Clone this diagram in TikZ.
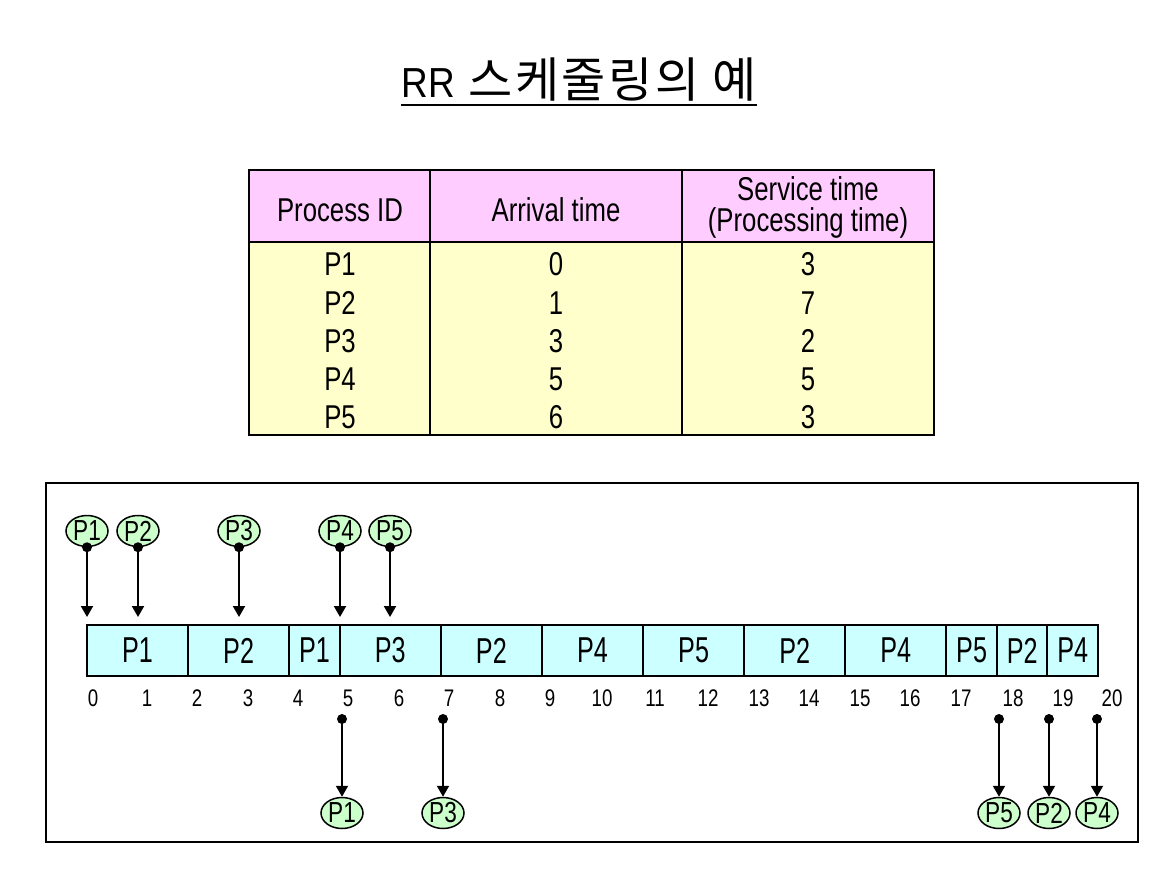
\documentclass[tikz,border=0pt]{standalone}
\usepackage{fontspec}
\setmainfont[FakeStretch=0.78]{Liberation Sans}
\newfontfamily\titlefont[FakeStretch=0.88]{Liberation Sans}
\newfontfamily\krfont[LetterSpace=5]{Noto Sans CJK KR}
\newfontfamily\barfont[FakeStretch=0.7]{Liberation Sans}
\usepackage{tikz}
\usetikzlibrary{shapes.geometric,arrows.meta,positioning}
\definecolor{HEADPINK}{HTML}{FFCCFF}
\definecolor{BODYYELLOW}{HTML}{FFFFCC}
\definecolor{SLICECYAN}{HTML}{CCFFFF}
\definecolor{PROCGREEN}{HTML}{CCFFCC}
\tikzset{
LINE/.style ={draw=black,line width=2},
HEAD/.style ={draw=black,line width=2,fill=HEADPINK},
BODY/.style ={draw=black,line width=2,fill=BODYYELLOW},
TITLE/.style={anchor=base,inner sep=0,font=\titlefont\fontsize{42}{42}\selectfont},
TAB/.style ={anchor=base,inner sep=0,font=\fontsize{33}{33}\selectfont},
SLICE/.style={rectangle,draw=black,line width=2,fill=SLICECYAN,minimum height=51,minimum width=#1*50.55,inner sep=0,outer sep=0,font=\barfont\fontsize{36}{36}\selectfont},
SLICE/.default = 2,
TICK/.style ={inner sep=0,font=\fontsize{24}{24}\selectfont},
PROC/.style ={ellipse,draw=black,line width=1.5,fill=PROCGREEN,minimum width=42,minimum height=31,inner sep=0,font=\fontsize{29}{29}\selectfont},
ARROW/.style={draw=black,line width=2,-{Triangle[length=11pt,width=12pt]}},
DOT/.style ={draw=none,fill=black},
}
\begin{document}
\begin{tikzpicture}[x=1pt,y=-1pt] %RR scheduling
	\useasboundingbox (0,0) rectangle (1162,878);
	% title
	\node[TITLE] (title) at (579,97) {RR\hspace{14pt}{\krfont\fontsize{48}{48}\selectfont 스케줄링의 예}};
	\path[LINE,line width=1.5] ([yshift=-8pt]title.base west) -- ([yshift=-8pt]title.base east);
	% table
	\path[HEAD] (249,170) rectangle (934,242);
	\path[BODY] (249,242) rectangle (934,435);
	\path[LINE] (430,170) -- (430,435);
	\path[LINE] (682,170) -- (682,435);
	\node[TAB] (hid) at (340,221) {Process ID};
	\node[TAB] (harr) at (556,221) {Arrival time};
	\node[TAB,anchor=center,align=center,font=\fontsize{33}{31}\selectfont] (hsrv) at (808,207) {Service time\\(Processing time)};
	\node[TAB] (id1) at (340,275) {P1};
	\node[TAB] (id2) at (340,314) {P2};
	\node[TAB] (id3) at (340,352) {P3};
	\node[TAB] (id4) at (340,390) {P4};
	\node[TAB] (id5) at (340,428) {P5};
	\node[TAB] (arr1) at (556,275) {0};
	\node[TAB] (arr2) at (556,314) {1};
	\node[TAB] (arr3) at (556,352) {3};
	\node[TAB] (arr4) at (556,390) {5};
	\node[TAB] (arr5) at (556,428) {6};
	\node[TAB] (srv1) at (808,275) {3};
	\node[TAB] (srv2) at (808,314) {7};
	\node[TAB] (srv3) at (808,352) {2};
	\node[TAB] (srv4) at (808,390) {5};
	\node[TAB] (srv5) at (808,428) {3};
	% time line
	\path[LINE] (46,483) rectangle (1138,842);
	\node[SLICE,anchor=west] (s1) at (87,650.5) {P1};
	\node[SLICE,right=0pt of s1] (s2) {P2};
	\node[SLICE=1,right=0pt of s2] (s3) {P1};
	\node[SLICE,right=0pt of s3] (s4) {P3};
	\node[SLICE,right=0pt of s4] (s5) {P2};
	\node[SLICE,right=0pt of s5] (s6) {P4};
	\node[SLICE,right=0pt of s6] (s7) {P5};
	\node[SLICE,right=0pt of s7] (s8) {P2};
	\node[SLICE,right=0pt of s8] (s9) {P4};
	\node[SLICE=1,right=0pt of s9] (s10) {P5};
	\node[SLICE=1,right=0pt of s10] (s11) {P2};
	\node[SLICE=1,right=0pt of s11] (s12) {P4};
	\node[TICK] (n0) at (93,698) {0};
	\node[TICK] (n1) at (147,698) {1};
	\node[TICK] (n2) at (197,698) {2};
	\node[TICK] (n3) at (248,698) {3};
	\node[TICK] (n4) at (298,698) {4};
	\node[TICK] (n5) at (348,698) {5};
	\node[TICK] (n6) at (399,698) {6};
	\node[TICK] (n7) at (449,698) {7};
	\node[TICK] (n8) at (500,698) {8};
	\node[TICK] (n9) at (550,698) {9};
	\node[TICK] (n10) at (602,698) {10};
	\node[TICK] (n11) at (655,698) {11};
	\node[TICK] (n12) at (708,698) {12};
	\node[TICK] (n13) at (759,698) {13};
	\node[TICK] (n14) at (809,698) {14};
	\node[TICK] (n15) at (860,698) {15};
	\node[TICK] (n16) at (910,698) {16};
	\node[TICK] (n17) at (961,698) {17};
	\node[TICK] (n18) at (1013,698) {18};
	\node[TICK] (n19) at (1063,698) {19};
	\node[TICK] (n20) at (1112,698) {20};
	% arrivals
	\node[PROC] (a1) at (87,531) {P1};
	\node[PROC] (a2) at (138,531) {P2};
	\node[PROC] (a3) at (239,531) {P3};
	\node[PROC] (a4) at (340,531) {P4};
	\node[PROC] (a5) at (390,531) {P5};
	\coordinate (t1) at (87,617);
	\coordinate (t2) at (138,617);
	\coordinate (t3) at (239,617);
	\coordinate (t4) at (340,617);
	\coordinate (t5) at (390,617);
	\path[ARROW] (a1.south) -- (t1);
	\path[ARROW] (a2.south) -- (t2);
	\path[ARROW] (a3.south) -- (t3);
	\path[ARROW] (a4.south) -- (t4);
	\path[ARROW] (a5.south) -- (t5);
	\path[DOT] (a1.south) circle (5);
	\path[DOT] (a2.south) circle (5);
	\path[DOT] (a3.south) circle (5);
	\path[DOT] (a4.south) circle (5);
	\path[DOT] (a5.south) circle (5);
	% back to the queue
	\coordinate (d1) at (342,719);
	\coordinate (d3) at (443,719);
	\coordinate (d5) at (999,719);
	\coordinate (d2) at (1049,719);
	\coordinate (d4) at (1097,719);
	\node[PROC] (r1) at (342,813) {P1};
	\node[PROC] (r3) at (443,813) {P3};
	\node[PROC] (r5) at (999,813) {P5};
	\node[PROC] (r2) at (1049,813) {P2};
	\node[PROC] (r4) at (1097,813) {P4};
	\path[ARROW] (d1) -- (r1.north);
	\path[ARROW] (d3) -- (r3.north);
	\path[ARROW] (d5) -- (r5.north);
	\path[ARROW] (d2) -- (r2.north);
	\path[ARROW] (d4) -- (r4.north);
	\path[DOT] (d1) circle (5);
	\path[DOT] (d3) circle (5);
	\path[DOT] (d5) circle (5);
	\path[DOT] (d2) circle (5);
	\path[DOT] (d4) circle (5);
\end{tikzpicture}
\end{document}
